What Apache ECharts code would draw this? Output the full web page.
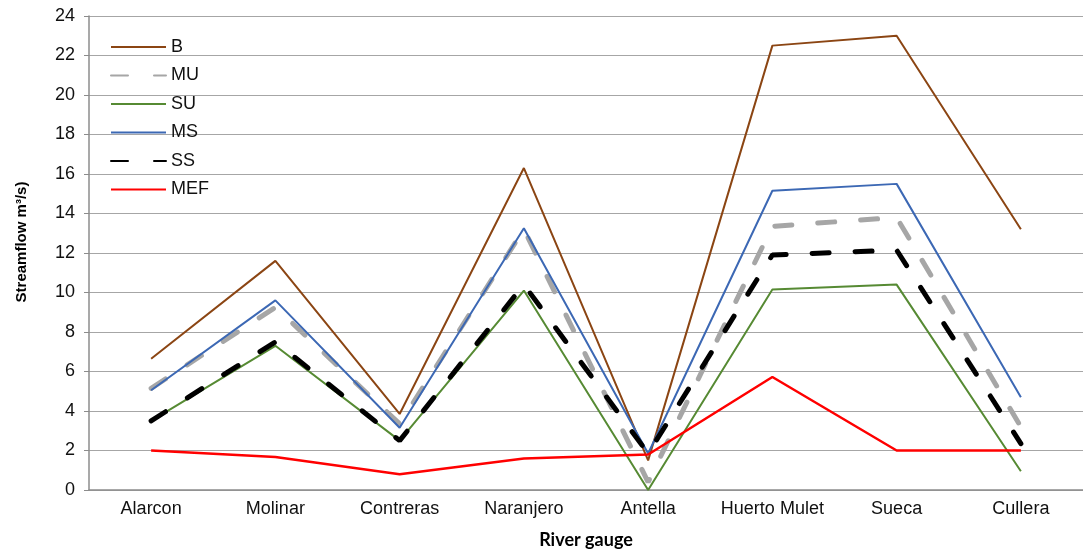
<!DOCTYPE html>
<html>
<head>
<meta charset="utf-8">
<script src="https://cdn.jsdelivr.net/npm/echarts@6/dist/echarts.min.js"></script>
<style>
html,body{margin:0;padding:0;background:#fff;}
#chart{width:1083px;height:554px;}
</style>
</head>
<body>
<div id="chart"></div>
<script>
var categories = ['Alarcon','Molinar','Contreras','Naranjero','Antella','Huerto Mulet','Sueca','Cullera'];
var B   = [6.65, 11.6, 3.85, 16.3, 1.5, 22.5, 23.0, 13.2];
var MU  = [5.15, 9.25, 3.35, 13.2, 0.4, 13.35, 13.8, 3.2];
var SU  = [3.5, 7.3, 2.5, 10.1, 0, 10.15, 10.4, 0.95];
var MS  = [5.05, 9.6, 3.15, 13.25, 1.85, 15.15, 15.5, 4.7];
var SS  = [3.5, 7.5, 2.5, 10.4, 1.85, 11.9, 12.15, 2.35];
var MEF = [2.0, 1.67, 0.8, 1.6, 1.8, 5.72, 2.0, 2.0];
var yTicks = {min: 0, max: 24, interval: 2};

var chart = echarts.init(document.getElementById('chart'), null, {renderer: 'canvas'});
function line(name, data, color, width, dashed) {
  return {
    name: name, type: 'line', data: data, symbol: 'none', animation: false,
    lineStyle: dashed ? {color: color, width: width, type: [17, 26], cap: 'round'}
                      : {color: color, width: width},
    itemStyle: {color: color}
  };
}
chart.setOption({
  animation: false,
  grid: {left: 89, right: -5, top: 16, bottom: 64},
  legend: {
    orient: 'vertical', left: 110, top: 38, padding: 0,
    itemWidth: 55, itemHeight: 14, itemGap: 10.5,
    itemStyle: {opacity: 0},
    textStyle: {fontFamily: 'Liberation Sans', fontSize: 18, color: '#111'},
    data: ['B','MU','SU','MS','SS','MEF']
  },
  xAxis: {
    type: 'category', data: categories, boundaryGap: true,
    name: 'River gauge', nameLocation: 'middle', nameGap: 41,
    nameTextStyle: {fontFamily: 'Lato', fontWeight: 'bold', fontSize: 18, color: '#000'},
    axisLine: {lineStyle: {color: '#8c8c8c', width: 1.5}},
    axisTick: {alignWithLabel: true, length: 5, lineStyle: {color: '#8c8c8c'}},
    axisLabel: {interval: 0, fontFamily: 'Liberation Sans', fontSize: 18, color: '#111', margin: 10}
  },
  yAxis: {
    type: 'value', min: yTicks.min, max: yTicks.max, interval: yTicks.interval,
    axisLine: {show: true, lineStyle: {color: '#8c8c8c', width: 1.5}},
    axisTick: {show: true, length: 5, lineStyle: {color: '#8c8c8c'}},
    splitLine: {lineStyle: {color: '#a6a6a6', width: 1}},
    axisLabel: {fontFamily: 'Liberation Sans', fontSize: 18, color: '#111', margin: 14}
  },
  graphic: [{
    type: 'text', x: 22, y: 242, rotation: Math.PI / 2,
    style: {text: 'Streamflow m³/s)', font: 'bold 15px "Liberation Sans"', fill: '#000',
            align: 'center', verticalAlign: 'middle'}
  }],
  series: [
    line('B', B, '#8b4513', 2),
    line('MU', MU, '#a6a6a6', 5, true),
    line('SU', SU, '#568a33', 2),
    line('MS', MS, '#3c68b4', 2),
    line('SS', SS, '#000000', 5, true),
    line('MEF', MEF, '#ff0000', 2.5)
  ]
});
</script>
</body>
</html>
